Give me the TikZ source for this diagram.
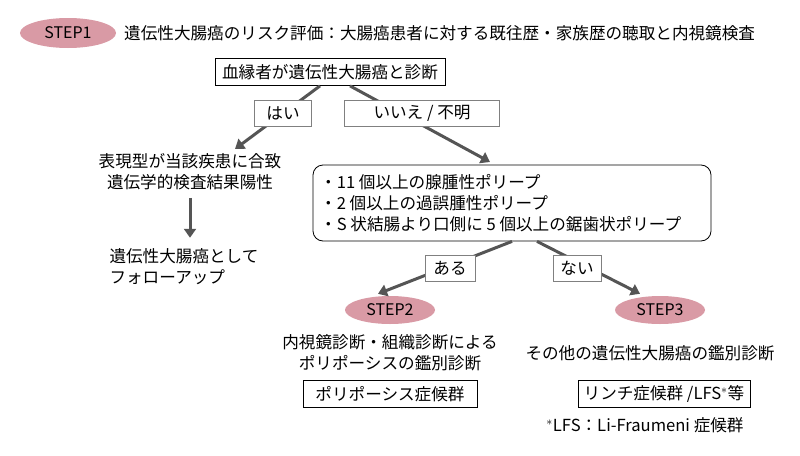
\documentclass[tikz,border=0pt]{standalone}
\usepackage{fontspec}
\setmainfont{Noto Sans CJK JP}
\usetikzlibrary{shapes.geometric,arrows.meta,calc}
\definecolor{steppink}{HTML}{D99AA5}
\definecolor{arrowgray}{HTML}{555555}
\tikzset{
  stepmark/.style={ellipse,fill=steppink,minimum width=96pt,minimum height=30pt,inner sep=0pt,font=\fontsize{16}{16}\selectfont},
  frame/.style={draw,thick,inner xsep=4pt,minimum height=27pt},
  answer/.style={draw=gray,fill=white,thick,minimum height=26pt},
  flow/.style={arrowgray,line width=3pt,-{Triangle[length=9pt,width=12pt]}},
  body/.style={font=\fontsize{16.6}{21}\selectfont}
}
\begin{document}
\begin{tikzpicture}[x=1pt,y=-1pt,body]
        \useasboundingbox (0,0) rectangle (800,455);
        \node[stepmark] (s1) at (68,33) {STEP1};
        \node[anchor=west,inner sep=0pt] (title) at (124,33) {遺伝性大腸癌のリスク評価：大腸癌患者に対する既往歴・家族歴の聴取と内視鏡検査};
        \node[frame,minimum width=230pt] (kin) at (330,72) {血縁者が遺伝性大腸癌と診断};

        \node[align=center] (pheno) at (190,172) {表現型が当該疾患に合致\\遺伝学的検査結果陽性};
        \node[align=left,anchor=west] (follow) at (106,267) {遺伝性大腸癌として\\フォローアップ};
        \node[draw,thick,rounded corners=10pt,minimum width=398pt,minimum height=76pt] (polyp) at (512,203) {};
        \node[align=left,anchor=west,inner sep=0pt] (items) at (320,203)
            {・11 個以上の腺腫性ポリープ\\・2 個以上の過誤腫性ポリープ\\・S 状結腸より口側に 5 個以上の鋸歯状ポリープ};
        \coordinate (yesend) at (235,149);
        \coordinate (noend) at (490,162);

        \node[stepmark,minimum width=90pt,minimum height=28pt] (s2) at (390,310) {STEP2};
        \node[stepmark,minimum width=90pt,minimum height=28pt] (s3) at (660,310) {STEP3};
        \node[align=center] (diag2) at (390,353) {内視鏡診断・組織診断による\\ポリポーシスの鑑別診断};
        \node (diag3) at (650,353) {その他の遺伝性大腸癌の鑑別診断};
        \node[frame,minimum width=174pt] (poly) at (390,394) {ポリポーシス症候群};
        \node[frame,minimum width=172pt] (lynch) at (664,394) {リンチ症候群 /LFS$^{*}$等};
        \node (note) at (645,425) {$^{*}$LFS：Li-Fraumeni 症候群};

        \draw[flow] ($(kin.south)+(-10,0)$) -- (yesend);
        \draw[flow] ($(kin.south)+(20,0)$) -- (noend);
        \draw[flow] ($(pheno.south)+(0,4)$) -- ++(0,40);
        \draw[flow] (polyp.south) -- ($(s2.north)+(-12,-2)$);
        \draw[flow] ($(polyp.south)+(25,0)$) -- ($(s3.north)+(-20,-2)$);

        \node[answer,minimum width=57pt] (yes) at (283,113) {はい};
        \node[answer,minimum width=155pt] (no) at (422,113) {いいえ / 不明};
        \node[answer,minimum width=50pt] (aru) at (450,268) {ある};
        \node[answer,minimum width=48pt] (nai) at (577,268) {ない};
\end{tikzpicture}
\end{document}
